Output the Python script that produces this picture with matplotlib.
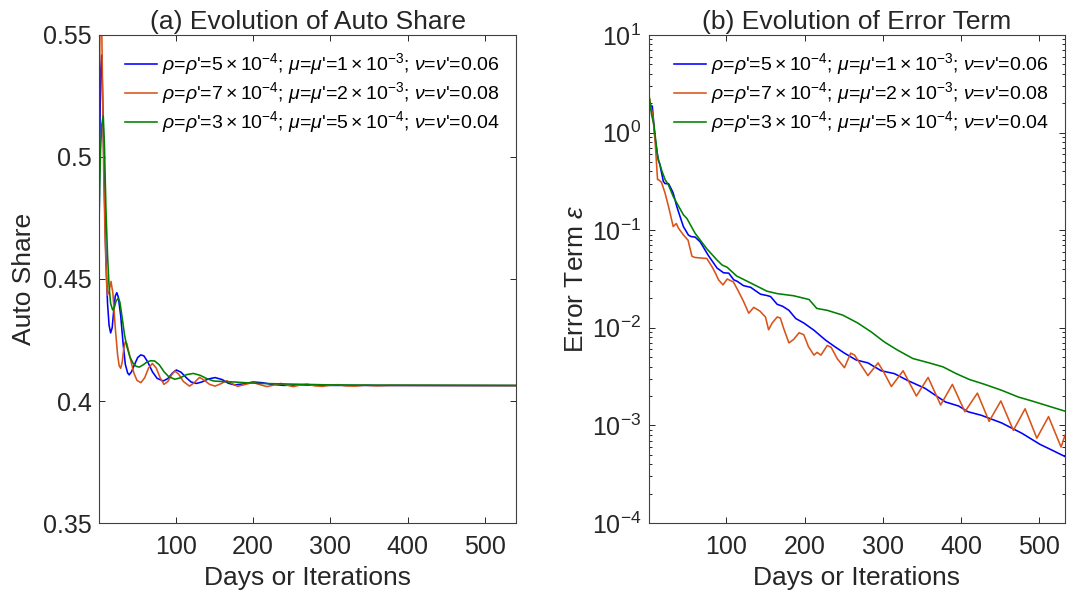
import matplotlib
matplotlib.use("Agg")
import matplotlib.pyplot as plt
from matplotlib.ticker import FixedLocator, LogLocator, NullFormatter

plt.rcParams['font.family'] = ['Liberation Sans', 'DejaVu Sans']
plt.rcParams['mathtext.fontset'] = 'custom'
plt.rcParams['mathtext.rm'] = 'Liberation Sans'
plt.rcParams['mathtext.it'] = 'Liberation Sans:italic'
plt.rcParams['mathtext.bf'] = 'Liberation Sans:bold'
plt.rcParams['mathtext.fallback'] = 'cm'

# ---------------- data ----------------
labels = [
    r"$\rho$=$\rho$'=$5\times10^{-4}$; $\mu$=$\mu$'=$1\times10^{-3}$; $\nu$=$\nu$'=0.06",
    r"$\rho$=$\rho$'=$7\times10^{-4}$; $\mu$=$\mu$'=$2\times10^{-3}$; $\nu$=$\nu$'=0.08",
    r"$\rho$=$\rho$'=$3\times10^{-4}$; $\mu$=$\mu$'=$5\times10^{-4}$; $\nu$=$\nu$'=0.04",
]
colors = ['#0000FF', '#D95319', '#008000']

# (a) auto share
share_blue_x = [1, 2, 3, 4.5, 6, 8, 10, 12, 14, 16, 18, 20, 22, 24, 26, 29, 32, 35, 38, 40,
                43, 47, 51, 55, 59, 64, 70, 76, 84, 90, 96, 101, 107, 114, 120, 127, 134,
                142, 151, 160, 168, 176, 188, 200, 212, 225, 240, 260, 280, 300, 540]
share_blue_y = [0.4656, 0.505, 0.535, 0.5418, 0.52, 0.485, 0.458, 0.440, 0.431, 0.4279, 0.430,
                0.437, 0.4430, 0.4444, 0.4425, 0.435, 0.424, 0.415, 0.4115, 0.4107,
                0.412, 0.415, 0.4178, 0.4189, 0.4185, 0.4160, 0.4120, 0.4093, 0.4082, 0.4092,
                0.4115, 0.4127, 0.4118, 0.4095, 0.4078, 0.4072, 0.4078,
                0.4090, 0.4096, 0.4088, 0.4073, 0.4066, 0.4070, 0.4078, 0.4075, 0.4068,
                0.4064, 0.4066, 0.4065, 0.4064, 0.4063]

share_orange_x = [1, 2, 3, 4, 5.5, 7, 9, 11, 12, 14, 16.5, 19, 22, 25, 27, 29, 31, 33, 35, 37,
                  41, 46, 50, 55, 60, 65, 70, 75, 80, 85, 90, 95, 99, 104, 110, 118, 124, 131,
                  137, 144, 151, 158, 166, 173, 180, 190, 200, 210, 218, 228, 236, 245, 252,
                  262, 270, 280, 290, 300, 310, 320, 332, 345, 360, 380, 540]
share_orange_y = [0.500, 0.545, 0.575, 0.565, 0.53, 0.495, 0.465, 0.447, 0.4434, 0.445, 0.449,
                  0.444, 0.430, 0.419, 0.4145, 0.4134, 0.416, 0.4215, 0.4243, 0.4235,
                  0.418, 0.4115, 0.4085, 0.4075, 0.4095, 0.4135, 0.4154, 0.4135, 0.4095,
                  0.4068, 0.4080, 0.4108, 0.4123, 0.4110, 0.4080, 0.4061, 0.4075, 0.4097,
                  0.4085, 0.4068, 0.4061, 0.4070, 0.4083, 0.4072, 0.4060, 0.4068, 0.4076,
                  0.4066, 0.4059, 0.4066, 0.4072, 0.4064, 0.4059, 0.4066, 0.4069, 0.4062,
                  0.4060, 0.4065, 0.4067, 0.4062, 0.4061, 0.4065, 0.4062, 0.4064, 0.4063]

share_green_x = [1, 2, 3, 4.5, 6.5, 8, 10, 12, 14, 16, 18.6, 21, 23, 26, 28, 31, 34, 37, 41, 45,
                 49, 53, 58, 63, 68, 73, 79, 85, 91, 99, 106, 114, 123, 132, 140, 149, 160,
                 175, 190, 210, 240, 270, 300, 350, 540]
share_green_y = [0.4735, 0.490, 0.503, 0.513, 0.5168, 0.505, 0.478, 0.460, 0.447, 0.4400,
                 0.4373, 0.4385, 0.4410, 0.4421, 0.4405, 0.434, 0.427, 0.4223, 0.418, 0.4155,
                 0.4142, 0.4139, 0.4148, 0.4160, 0.4165, 0.4164, 0.4148, 0.4120, 0.4100,
                 0.4089, 0.4095, 0.4108, 0.4113, 0.4105, 0.4092, 0.4082, 0.4080, 0.4078,
                 0.4075, 0.4072, 0.4070, 0.4068, 0.4066, 0.4065, 0.4064]

# (b) error term
err_blue_x = [1, 4, 5.3, 8.7, 13, 15, 19.4, 21.6, 26, 30, 32, 36.6, 38.7, 45, 51.5, 55, 60, 66.5,
              77, 88, 96.5, 103, 109.5, 113.7, 122, 131, 143.6, 152, 156.5, 165, 172, 180,
              188.7, 199, 212, 227, 238, 251, 266, 281, 298, 315, 332, 354, 380, 397, 409,
              426, 452, 478, 501, 518, 533]
err_blue_y = [1.6, 1.9, 1.86, 0.89, 0.52, 0.47, 0.316, 0.30, 0.30, 0.26, 0.24, 0.175, 0.155,
              0.109, 0.089, 0.086, 0.085, 0.076, 0.055, 0.041, 0.0366, 0.0363, 0.031, 0.030,
              0.027, 0.026, 0.0221, 0.0214, 0.0209, 0.0174, 0.0166, 0.0151, 0.01245, 0.0112,
              0.00944, 0.00746, 0.00646, 0.0055, 0.00468, 0.00437, 0.00363, 0.00339,
              0.00288, 0.0024, 0.00174, 0.00158, 0.00138, 0.00127, 0.00106, 0.00083,
              0.00064, 0.00055, 0.00048]

err_orange_x = [1, 2, 3, 5.7, 8.7, 12, 13, 17, 21.6, 26, 28, 32, 36, 38.7, 45, 51, 56, 60, 75,
                81.6, 86, 90, 95.7, 101, 109, 115, 122, 128.6, 135, 143, 150, 154, 158.6, 165,
                169, 173, 180, 186, 193, 199, 205, 212, 216, 221, 229, 234, 242, 251, 259, 264,
                272, 281, 294, 301, 311, 326, 343, 358, 374, 389, 405, 421, 436, 451, 467,
                482, 497, 512, 528, 533]
err_orange_y = [2.2, 2.22, 1.9, 1.55, 0.85, 0.33, 0.33, 0.31, 0.24, 0.175, 0.15, 0.109, 0.117,
                0.105, 0.0895, 0.079, 0.054, 0.0525, 0.0513, 0.0423, 0.0363, 0.031, 0.0275,
                0.0316, 0.0295, 0.024, 0.0186, 0.0141, 0.0162, 0.0148, 0.0129, 0.00955,
                0.0112, 0.0129, 0.0126, 0.010, 0.0070, 0.0076, 0.0089, 0.0085, 0.0064,
                0.00525, 0.0056, 0.00525, 0.0066, 0.0063, 0.0048, 0.0039, 0.0055, 0.00525,
                0.00417, 0.00324, 0.00437, 0.00355, 0.0025, 0.00363, 0.0020, 0.0031,
                0.00162, 0.00263, 0.00138, 0.00214, 0.0011, 0.00178, 0.00089, 0.00148,
                0.00074, 0.00123, 0.0006, 0.00079]

err_green_x = [1, 4.4, 7.4, 12, 17, 21.6, 26, 32, 36.6, 45, 49.5, 60, 75, 88, 94.5, 101, 113,
               131, 152, 165, 186, 205.7, 215.6, 229, 248.7, 268, 285, 302, 319, 338.6, 358,
               377, 394, 411, 430.5, 452, 473.6, 490.7, 515, 533]
err_green_y = [2.45, 1.52, 1.2, 0.57, 0.417, 0.33, 0.29, 0.222, 0.19, 0.144, 0.132, 0.093,
               0.0645, 0.0495, 0.044, 0.0417, 0.034, 0.0288, 0.0237, 0.0224, 0.0213, 0.0195,
               0.0158, 0.0151, 0.0135, 0.0112, 0.0091, 0.00716, 0.0059, 0.00484, 0.0044,
               0.00398, 0.00339, 0.00295, 0.00263, 0.00229, 0.00195, 0.00178, 0.00155,
               0.0014]

x_ticks = [100, 200, 300, 400, 500]
share_ticks = [0.35, 0.4, 0.45, 0.5, 0.55]
share_tick_labels = ['0.35', '0.4', '0.45', '0.5', '0.55']

# ---------------- figure ----------------
fig = plt.figure(figsize=(10.67, 5.98), dpi=100)
axA = fig.add_axes([0.0928, 0.1254, 0.3908, 0.8161])
axB = fig.add_axes([0.6082, 0.1254, 0.3899, 0.8161])

axis_col = '#262626'
lw = 1.15

for xs, ys, c, lab in [(share_blue_x, share_blue_y, colors[0], labels[0]),
                       (share_orange_x, share_orange_y, colors[1], labels[1]),
                       (share_green_x, share_green_y, colors[2], labels[2])]:
    axA.plot(xs, ys, color=c, lw=lw, label=lab)

for xs, ys, c, lab in [(err_blue_x, err_blue_y, colors[0], labels[0]),
                       (err_orange_x, err_orange_y, colors[1], labels[1]),
                       (err_green_x, err_green_y, colors[2], labels[2])]:
    axB.plot(xs, ys, color=c, lw=lw, label=lab)

axA.set_xlim(1, 540)
axA.set_ylim(0.35, 0.55)
axA.yaxis.set_major_locator(FixedLocator(share_ticks))
axA.set_yticklabels(share_tick_labels)

axB.set_xlim(1, 533)
axB.set_yscale('log')
axB.set_ylim(1e-4, 10)
axB.yaxis.set_major_locator(LogLocator(base=10, numticks=10))
axB.yaxis.set_minor_locator(LogLocator(base=10, subs=range(2, 10), numticks=20))
axB.yaxis.set_minor_formatter(NullFormatter())

for ax in (axA, axB):
    ax.xaxis.set_major_locator(FixedLocator(x_ticks))
    ax.tick_params(which='both', direction='in', top=True, right=True,
                   colors=axis_col, labelsize=18, width=0.7)
    ax.tick_params(which='major', length=4.5)
    ax.tick_params(which='minor', length=2.5)
    ax.tick_params(axis='x', which='major', pad=8.5)
    ax.tick_params(axis='y', which='major', pad=5.5)
    for s in ax.spines.values():
        s.set_color('#404040')
        s.set_linewidth(0.8)
    ax.set_xlabel('Days or Iterations', fontsize=19, color=axis_col, labelpad=5)
    ax.legend(loc='upper right', frameon=False, fontsize=14, handlelength=1.65,
              handletextpad=0.25, labelspacing=0.16, borderaxespad=0.45)

axA.set_ylabel('Auto Share', fontsize=19, color=axis_col, labelpad=5)
axB.set_ylabel(r'Error Term $\epsilon$', fontsize=19, color=axis_col, labelpad=3)
axA.set_title('(a) Evolution of Auto Share', fontsize=19, color=axis_col, pad=4)
axB.set_title('(b) Evolution of Error Term', fontsize=19, color=axis_col, pad=4)

fig.savefig('out.png', dpi=100)
